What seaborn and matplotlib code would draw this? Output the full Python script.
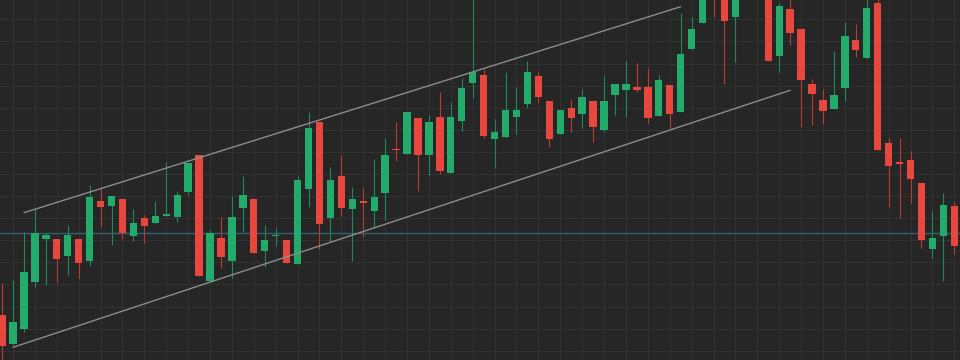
import numpy as np
import pandas as pd
import matplotlib
matplotlib.use("Agg")
import matplotlib.pyplot as plt
import seaborn as sns

# ---- data (price units) ----
opens = [45, 15.7, 31, 78.3, 121, 121, 104, 121, 99.3, 159.3,
         154.3, 160.7, 124.3, 142, 136.7, 144.3, 143.3, 167.7, 205, 79,
         122.3, 99, 152, 161, 109, 124, 119.7, 96, 170.7, 237.7,
         141.7, 184, 151.3, 159.3, 149.3, 167.3, 211.3, 206, 242.3, 204.7,
         243, 187.3, 239, 277.3, 285, 220.7, 223.3, 243, 256, 284,
         259.3, 225.7, 252.3, 245.7, 259.3, 230, 265.3, 269.7, 273.3, 273.3,
         244.3, 274.7, 248.3, 311.3, 337.3, 385, 368, 342.7, 370, 390,
         365, 304.3, 351, 331, 276.3, 260, 250.7, 272.3, 319.7, 302.3,
         356.7, 216.7, 198.3, 200, 176.7, 111.3, 124.3, 154]
highs = [77.3, 80, 128.3, 150.7, 126.7, 121, 135, 121, 175, 173.3,
         164, 160.7, 151, 145, 159, 197.7, 169, 197, 205, 130,
         143.3, 164, 184, 161, 135, 132.3, 119.7, 184, 247.7, 237.7,
         193.3, 205, 173.3, 171.7, 200.7, 222.3, 237.7, 248.3, 242.3, 245,
         267.7, 257.7, 282.3, 362, 290.7, 240.7, 287.7, 273.3, 299.3, 288,
         259.3, 249.7, 261.3, 270.7, 259.3, 283.7, 276, 299.3, 296.7, 292.3,
         285, 274.7, 346.7, 342.7, 370, 390, 372, 372, 395, 398,
         368, 357.3, 362, 331, 280.7, 270.7, 309.3, 337.7, 336, 362,
         362, 222.3, 222.3, 209, 176.7, 149.3, 166.7, 158]
lows = [-2, 15, 28.3, 72.7, 75, 78.3, 85, 81, 94, 133.3,
        115, 120.7, 119.3, 116.7, 136.7, 144.3, 138, 165.3, 84, 79,
        92.3, 82.3, 128.3, 107.3, 93.3, 114, 97.3, 96, 153.3, 110.7,
        118.3, 144, 99.3, 123.3, 131.7, 140, 199.3, 206, 169.3, 185,
        186, 187.3, 229.3, 262.3, 222.3, 191.7, 223.3, 226, 252.3, 257.3,
        213.3, 225.7, 228.3, 232.3, 217.7, 228.3, 245, 242.7, 268, 236.7,
        244.3, 230.7, 248.3, 311.3, 336.7, 342.7, 276, 298, 363, 364,
        299, 287.7, 315, 233.3, 235, 236, 250.7, 259.3, 303.3, 302.3,
        210, 153.3, 141.7, 157.3, 112.3, 102.3, 79.3, 106]
closes = [14.3, 38.3, 88.3, 126.7, 125, 101.3, 125, 97.3, 162.7, 152.7,
          164, 127.3, 136.7, 134, 143.7, 145.7, 165.3, 197, 84, 126.7,
          102.7, 143.3, 165.3, 107.3, 119.7, 125, 97.3, 179.7, 232.3, 135.7,
          179.7, 152.3, 160.7, 156.7, 162.7, 205, 210, 248.3, 205.3, 238,
          189, 243, 272.3, 288.3, 224.3, 228.3, 249.7, 249.7, 288, 262.7,
          221, 249.7, 241.7, 262.7, 232.7, 259.3, 276, 276.3, 270, 241.7,
          279.7, 245.7, 306.3, 331, 365, 366, 339, 365, 388, 375,
          299, 354, 327.3, 280, 265.7, 249.3, 265.3, 323.7, 310, 352.3,
          210, 194.3, 195.7, 181, 120, 122.3, 155.3, 114]

level_price = 127.0
upper_channel_idx = [2, 62]
upper_channel_price = [147.3, 353.3]
lower_channel_idx = [1, 72]
lower_channel_price = [12.7, 269.7]

df = pd.DataFrame({"open": opens, "high": highs, "low": lows, "close": closes})
df["idx"] = np.arange(len(df))
df["up"] = df["close"] >= df["open"]

GREEN = "#22ab6b"
RED = "#e8473d"
GREEN_WICK = "#1e8a58"
RED_WICK = "#b83c34"
BG = "#262626"
GRID = "#323232"

sns.set_theme(style="darkgrid", rc={
    "axes.facecolor": BG, "figure.facecolor": BG,
    "grid.color": GRID, "grid.linewidth": 0.8,
    "axes.edgecolor": BG,
})

fig = plt.figure(figsize=(9.6, 3.6), dpi=100)
ax = fig.add_axes([0, 0, 1, 1])

colors = np.where(df["up"], GREEN, RED)
wick_colors = np.where(df["up"], GREEN_WICK, RED_WICK)

# wicks
ax.vlines(df["idx"], df["low"], df["high"], colors=wick_colors, linewidth=0.8, zorder=3)
# bodies
body_bottom = np.minimum(df["open"], df["close"])
body_height = np.maximum(np.abs(df["close"] - df["open"]), 0.9)
ax.bar(df["idx"], body_height, bottom=body_bottom, width=0.67, color=colors,
       linewidth=0, zorder=4)

# horizontal level
ax.axhline(level_price, color="#35606f", linewidth=1.0, zorder=2)

# channel lines
sns.lineplot(x=upper_channel_idx, y=upper_channel_price, ax=ax, color="#8c8c8c",
             linewidth=1.0, zorder=5)
sns.lineplot(x=lower_channel_idx, y=lower_channel_price, ax=ax, color="#8c8c8c",
             linewidth=1.0, zorder=5)

ax.set_xlim(-0.188, 87.52)
ax.set_ylim(0, 360)
ax.set_xticks(np.arange(1, 88, 2))
ax.set_yticks(np.arange(9.3, 360, 22.09))
ax.set_xticklabels([])
ax.set_yticklabels([])
ax.tick_params(length=0)
ax.grid(True, color=GRID, linewidth=0.8)
ax.set_axisbelow(True)
for s in ax.spines.values():
    s.set_visible(False)
ax.set_xlabel("")
ax.set_ylabel("")

fig.savefig("out.png", dpi=100, facecolor=BG)
